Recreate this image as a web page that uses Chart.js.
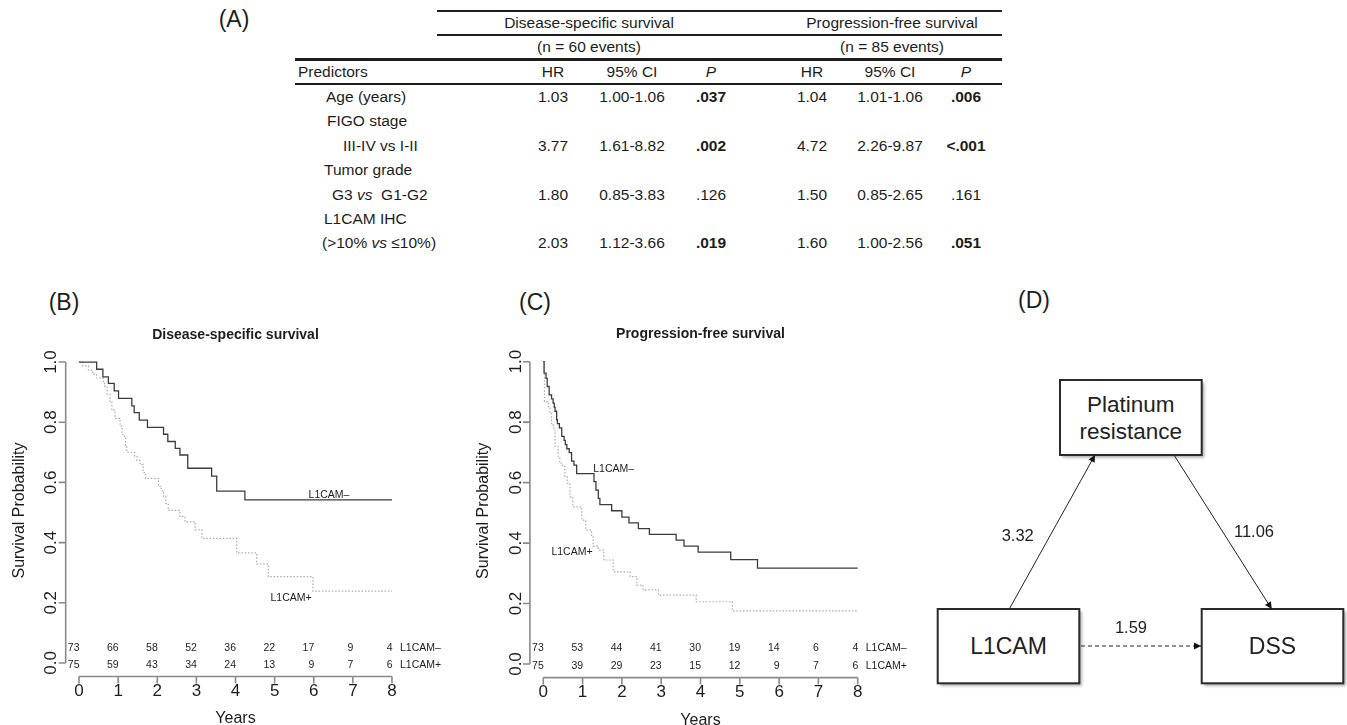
<!DOCTYPE html>
<html><head><meta charset="utf-8">
<script src="https://cdn.jsdelivr.net/npm/chart.js@4.4.1/dist/chart.umd.min.js"></script>
<style>
html,body{margin:0;padding:0;background:#fff;}
body{width:1347px;height:725px;position:relative;overflow:hidden;font-family:"Liberation Sans",Arial,sans-serif;color:#1d1d1d;}
.c{position:absolute;white-space:nowrap;font-size:15.5px;line-height:1;transform:translate(-50%,-50%);}
.l{position:absolute;white-space:nowrap;font-size:15.5px;line-height:1;transform:translateY(-50%);}
.rule{position:absolute;background:#1d1d1d;}
.pl{position:absolute;font-size:23px;line-height:1;transform:translate(-50%,-50%);white-space:nowrap;}
canvas{position:absolute;}
b{font-weight:bold;}
</style></head><body>
<div id="tbl"></div>
<div class="pl" style="left:234px;top:19px">(A)</div>
<div class="pl" style="left:64px;top:302px">(B)</div>
<div class="pl" style="left:535px;top:302px">(C)</div>
<div class="pl" style="left:1034px;top:300px">(D)</div>
<canvas id="cB" width="470" height="415" style="left:0;top:310px"></canvas>
<canvas id="cC" width="440" height="415" style="left:470px;top:310px"></canvas>
<svg width="1347" height="725" style="position:absolute;left:0;top:0;pointer-events:none" font-family="Liberation Sans, Arial, sans-serif">
  <defs>
    <marker id="ah" viewBox="0 0 10 10" refX="10" refY="5" markerWidth="10" markerHeight="7" markerUnits="userSpaceOnUse" orient="auto">
      <path d="M0,0 L10,5 L0,10 z" fill="#111"/>
    </marker>
    <filter id="sh" x="-10%" y="-10%" width="130%" height="130%"><feGaussianBlur stdDeviation="1.4"/></filter>
  </defs>
  <g id="boxes"></g>
  <line x1="1009.3" y1="609" x2="1095" y2="455" stroke="#222" stroke-width="1" marker-end="url(#ah)"/>
  <line x1="1174" y1="455" x2="1271.7" y2="609" stroke="#222" stroke-width="1" marker-end="url(#ah)"/>
  <line x1="1081" y1="646" x2="1201" y2="646" stroke="#222" stroke-width="1" stroke-dasharray="4,3" marker-end="url(#ah)"/>
  <g font-size="16.5" fill="#222" text-anchor="middle" dominant-baseline="central">
    <text x="1017.7" y="535">3.32</text>
    <text x="1254" y="531">11.06</text>
    <text x="1131" y="627">1.59</text>
  </g>
</svg>
<script>
// ---------------- DATA ----------------
// Table (A)
const tablePredictors = ['Age (years)', 'FIGO stage', 'III-IV vs I-II', 'Tumor grade', 'G3 <i>vs</i>&nbsp; G1-G2', 'L1CAM IHC', '(&gt;10% <i>vs</i> &le;10%)'];
const valueRowIndex = [0, 2, 4, 6];
const dssHR = [1.03, 3.77, 1.80, 2.03];
const dssCI = ['1.00-1.06', '1.61-8.82', '0.85-3.83', '1.12-3.66'];
const dssP = ['.037', '.002', '.126', '.019'];
const dssPBold = [true, true, false, true];
const pfsHR = [1.04, 4.72, 1.50, 1.60];
const pfsCI = ['1.01-1.06', '2.26-9.87', '0.85-2.65', '1.00-2.56'];
const pfsP = ['.006', '<.001', '.161', '.051'];
const pfsPBold = [true, true, false, true];

// KM axes
const yearTicks = [0, 1, 2, 3, 4, 5, 6, 7, 8];
const survTicks = [0.0, 0.2, 0.4, 0.6, 0.8, 1.0];
const groupNames = ['L1CAM\u2013', 'L1CAM+'];

// (B) Disease-specific survival
const dssNegTime = [0, 0.45, 0.61, 0.75, 0.90, 1.01, 1.35, 1.41, 1.54, 1.75, 2.16, 2.27, 2.46, 2.58, 2.78, 3.39, 3.52, 4.24, 8];
const dssNegSurv = [1.0, 0.976, 0.951, 0.929, 0.904, 0.879, 0.854, 0.832, 0.807, 0.783, 0.760, 0.736, 0.713, 0.691, 0.647, 0.621, 0.571, 0.542, 0.542];
const dssPosTime = [0, 0.10, 0.24, 0.35, 0.45, 0.62, 0.65, 0.72, 0.79, 0.84, 0.92, 1.05, 1.10, 1.16, 1.19, 1.22, 1.42, 1.48, 1.56, 1.64, 1.70, 2.03, 2.10, 2.16, 2.22, 2.28, 2.58, 2.71, 2.97, 3.14, 4.03, 4.54, 4.84, 5.98, 8];
const dssPosSurv = [1.0, 0.987, 0.973, 0.960, 0.947, 0.933, 0.920, 0.893, 0.867, 0.840, 0.813, 0.787, 0.760, 0.747, 0.720, 0.700, 0.687, 0.673, 0.660, 0.633, 0.613, 0.587, 0.573, 0.553, 0.530, 0.507, 0.487, 0.469, 0.442, 0.414, 0.366, 0.329, 0.287, 0.239, 0.239];
const dssRiskNeg = [73, 66, 58, 52, 36, 22, 17, 9, 4];
const dssRiskPos = [75, 59, 43, 34, 24, 13, 9, 7, 6];

// (C) Progression-free survival
const pfsNegTime = [0, 0.02, 0.07, 0.10, 0.15, 0.21, 0.25, 0.28, 0.30, 0.34, 0.36, 0.41, 0.47, 0.53, 0.56, 0.60, 0.66, 0.72, 0.78, 0.85, 1.29, 1.34, 1.40, 1.44, 1.74, 2.00, 2.18, 2.42, 2.70, 3.38, 3.58, 3.94, 4.77, 5.45, 8];
const pfsNegSurv = [1.0, 0.962, 0.945, 0.918, 0.890, 0.877, 0.863, 0.849, 0.836, 0.808, 0.795, 0.781, 0.753, 0.740, 0.726, 0.712, 0.699, 0.671, 0.658, 0.630, 0.603, 0.575, 0.548, 0.527, 0.507, 0.486, 0.467, 0.448, 0.429, 0.410, 0.390, 0.370, 0.345, 0.317, 0.317];
const pfsPosTime = [0, 0.03, 0.13, 0.17, 0.21, 0.27, 0.30, 0.38, 0.42, 0.49, 0.55, 0.61, 0.68, 0.75, 0.98, 1.08, 1.23, 1.27, 1.40, 1.54, 1.78, 2.21, 2.38, 2.54, 2.93, 3.89, 4.81, 8];
const pfsPosSurv = [1.0, 0.868, 0.846, 0.829, 0.790, 0.774, 0.720, 0.686, 0.664, 0.653, 0.620, 0.598, 0.553, 0.520, 0.476, 0.443, 0.421, 0.390, 0.377, 0.344, 0.305, 0.289, 0.261, 0.245, 0.228, 0.206, 0.176, 0.176];
const pfsRiskNeg = [73, 53, 44, 41, 30, 19, 14, 6, 4];
const pfsRiskPos = [75, 39, 29, 23, 15, 12, 9, 7, 6];

// Diagram (D)
const diagramNodes = [
  {lines: ['Platinum', 'resistance'], x: 1060, y: 380, w: 141.7, h: 75},
  {lines: ['L1CAM'], x: 937.7, y: 609, w: 141.6, h: 74.3},
  {lines: ['DSS'], x: 1201.7, y: 609, w: 141.6, h: 74.3}
];

// ---------------- TABLE ----------------
(function buildTable() {
  const t = document.getElementById('tbl');
  let h = '';
  const rule = (x1, x2, y, th) => `<div class="rule" style="left:${x1}px;width:${x2 - x1}px;top:${y - th / 2}px;height:${th}px"></div>`;
  h += rule(437, 1002, 11, 1.6);
  h += rule(437, 1002, 35, 1.6);
  h += rule(295, 1002, 59.5, 2.2);
  h += rule(295, 1002, 83.5, 2);
  const c = (x, y, s) => `<div class="c" style="left:${x}px;top:${y}px">${s}</div>`;
  const l = (x, y, s) => `<div class="l" style="left:${x}px;top:${y}px">${s}</div>`;
  h += c(589, 23, 'Disease-specific survival');
  h += c(892, 23, 'Progression-free survival');
  h += c(589, 47, '(n = 60 events)');
  h += c(892, 47, '(n = 85 events)');
  const colX = [553, 632, 711, 812, 890, 966];
  h += l(298, 72, 'Predictors');
  ['HR', '95% CI', '<i>P</i>', 'HR', '95% CI', '<i>P</i>'].forEach((s, i) => h += c(colX[i], 72, s));
  const rowY = [97, 121, 146, 169.5, 194.5, 218.5, 242.5];
  const labelX = [326, 327, 343, 324, 332, 324, 322];
  tablePredictors.forEach((s, i) => h += l(labelX[i], rowY[i], s));
  valueRowIndex.forEach((ri, k) => {
    const y = rowY[ri];
    h += c(colX[0], y, dssHR[k].toFixed(2));
    h += c(colX[1], y, dssCI[k]);
    h += c(colX[2], y, dssPBold[k] ? '<b>' + dssP[k].replace('<', '&lt;') + '</b>' : dssP[k]);
    h += c(colX[3], y, pfsHR[k].toFixed(2));
    h += c(colX[4], y, pfsCI[k]);
    h += c(colX[5], y, pfsPBold[k] ? '<b>' + pfsP[k].replace('<', '&lt;') + '</b>' : pfsP[k]);
  });
  t.innerHTML = h;
})();

// ---------------- DIAGRAM BOXES ----------------
(function buildBoxes() {
  const g = document.getElementById('boxes');
  let s = '';
  diagramNodes.forEach(n => {
    s += `<rect x="${n.x + 2.5}" y="${n.y + 2.5}" width="${n.w}" height="${n.h}" fill="#a8a8a8" filter="url(#sh)"/>`;
    s += `<rect x="${n.x}" y="${n.y}" width="${n.w}" height="${n.h}" fill="#fff" stroke="#2a2a2a" stroke-width="2"/>`;
    const cx = n.x + n.w / 2, cy = n.y + n.h / 2;
    if (n.lines.length === 1) {
      s += `<text x="${cx}" y="${cy}" font-size="23" fill="#222" text-anchor="middle" dominant-baseline="central">${n.lines[0]}</text>`;
    } else {
      s += `<text x="${cx}" y="${cy - 13}" font-size="22.5" fill="#222" text-anchor="middle" dominant-baseline="central">${n.lines[0]}</text>`;
      s += `<text x="${cx}" y="${cy + 14}" font-size="22.5" fill="#222" text-anchor="middle" dominant-baseline="central">${n.lines[1]}</text>`;
    }
  });
  g.innerHTML = s;
})();

// ---------------- KM CHARTS ----------------
const AXIS = '#8a8a8a', TXT = '#1d1d1d';
const toPts = (ts, ss) => ts.map((t, i) => ({x: t, y: ss[i]}));

function kmChart(id, cfg) {
  const plugin = {
    id: 'km_' + id,
    afterDraw(chart) {
      const ctx = chart.ctx, xs = chart.scales.x, ys = chart.scales.y, ca = chart.chartArea;
      ctx.save();
      ctx.strokeStyle = AXIS; ctx.lineWidth = 1.6;
      const yAx = ca.bottom + 1.5, xAx = ca.left - 0.8;
      ctx.beginPath();
      ctx.moveTo(xs.getPixelForValue(yearTicks[0]), yAx);
      ctx.lineTo(xs.getPixelForValue(yearTicks[yearTicks.length - 1]), yAx);
      yearTicks.forEach(v => { const p = xs.getPixelForValue(v); ctx.moveTo(p, yAx); ctx.lineTo(p, yAx + 7); });
      ctx.moveTo(xAx, ys.getPixelForValue(survTicks[0]));
      ctx.lineTo(xAx, ys.getPixelForValue(survTicks[survTicks.length - 1]));
      survTicks.forEach(v => { const p = ys.getPixelForValue(v); ctx.moveTo(xAx, p); ctx.lineTo(xAx - 7, p); });
      ctx.stroke();
      ctx.fillStyle = TXT;
      ctx.font = '17px "Liberation Sans", Arial';
      ctx.textAlign = 'center'; ctx.textBaseline = 'middle';
      yearTicks.forEach(v => ctx.fillText(String(v), xs.getPixelForValue(v), yAx + 15));
      survTicks.forEach(v => {
        ctx.save(); ctx.translate(xAx - 14, ys.getPixelForValue(v)); ctx.rotate(-Math.PI / 2);
        ctx.fillText(v.toFixed(1), 0, 0); ctx.restore();
      });
      // axis titles
      ctx.font = '16px "Liberation Sans", Arial';
      ctx.fillText('Years', (ca.left + ca.right) / 2, ca.bottom + 44);
      ctx.save(); ctx.translate(ca.left - 47, (ca.top + ca.bottom) / 2 - 2); ctx.rotate(-Math.PI / 2);
      ctx.fillText('Survival Probability', 0, 0); ctx.restore();
      // title
      ctx.font = 'bold 14px "Liberation Sans", Arial';
      ctx.fillText(cfg.title, (ca.left + ca.right) / 2, ca.top - 15);
      // numbers at risk
      ctx.font = '10.5px "Liberation Sans", Arial';
      const rowVals = [0.051, -0.006];
      [cfg.riskNeg, cfg.riskPos].forEach((arr, r) => {
        const y = ys.getPixelForValue(rowVals[r]);
        ctx.textAlign = 'right';
        arr.forEach((n, i) => ctx.fillText(String(n), xs.getPixelForValue(yearTicks[i]) + 0.5, y));
        ctx.textAlign = 'left';
        ctx.fillText(groupNames[r], xs.getPixelForValue(yearTicks[yearTicks.length - 1]) + 8, y);
      });
      // curve labels
      ctx.textAlign = 'center';
      cfg.curveLabels.forEach((p, i) => ctx.fillText(groupNames[i], xs.getPixelForValue(p[0]), ys.getPixelForValue(p[1])));
      ctx.restore();
    }
  };
  return new Chart(document.getElementById(id), {
    type: 'line',
    data: {
      datasets: [
        {data: toPts(cfg.negT, cfg.negS), borderColor: '#3c3c3c', borderWidth: 1.3, stepped: true, pointRadius: 0, fill: false},
        {data: toPts(cfg.posT, cfg.posS), borderColor: '#ababab', borderWidth: 1.2, borderDash: [1.5, 1.8], stepped: true, pointRadius: 0, fill: false}
      ]
    },
    options: {
      responsive: false, animation: false, devicePixelRatio: 1,
      layout: {padding: cfg.pad},
      scales: {
        x: {type: 'linear', min: -0.32, max: 8.32, display: false},
        y: {type: 'linear', min: -0.04, max: 1.04, display: false}
      },
      plugins: {legend: {display: false}, tooltip: {enabled: false}, title: {display: false}}
    },
    plugins: [plugin]
  });
}

kmChart('cB', {
  title: 'Disease-specific survival',
  negT: dssNegTime, negS: dssNegSurv, posT: dssPosTime, posS: dssPosSurv,
  riskNeg: dssRiskNeg, riskPos: dssRiskPos,
  curveLabels: [[6.39, 0.558], [5.42, 0.217]],
  pad: {left: 66.5, right: 65.5, top: 40, bottom: 50}
});
kmChart('cC', {
  title: 'Progression-free survival',
  negT: pfsNegTime, negS: pfsNegSurv, posT: pfsPosTime, posS: pfsPosSurv,
  riskNeg: pfsRiskNeg, riskPos: pfsRiskPos,
  curveLabels: [[1.79, 0.644], [0.73, 0.371]],
  pad: {left: 60.7, right: 39.7, top: 39.6, bottom: 48.9}
});
</script>
</body></html>
